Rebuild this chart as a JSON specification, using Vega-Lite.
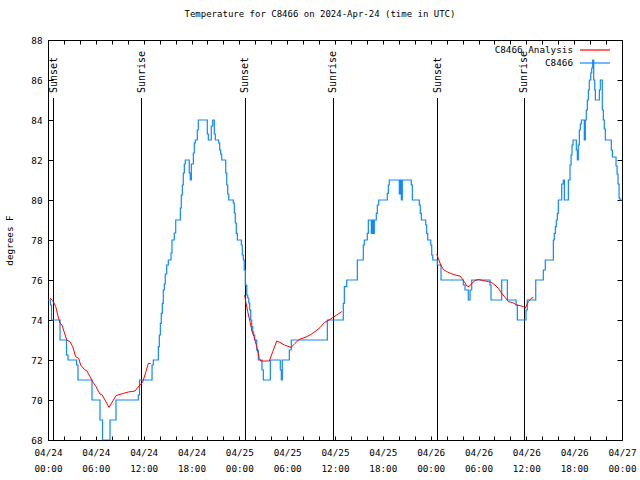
{
  "$schema": "https://vega.github.io/schema/vega-lite/v6.json",
  "width": 574,
  "height": 400,
  "autosize": {"type": "none"},
  "padding": {"left": 48, "top": 40, "right": 18, "bottom": 40},
  "background": "white",
  "title": {"text": "Temperature for C8466 on 2024-Apr-24 (time in UTC)", "font": "DejaVu Sans Mono", "fontSize": 9, "fontWeight": "normal", "color": "black", "anchor": "middle", "offset": 17, "dx": -15},
  "config": {
    "view": {"stroke": null},
    "font": "DejaVu Sans Mono",
    "axis": {"domainColor": "black", "domainWidth": 1, "tickColor": "black", "tickWidth": 1, "grid": false, "labelFont": "DejaVu Sans Mono", "labelFontSize": 9.3, "labelColor": "black", "titleFont": "DejaVu Sans Mono", "titleFontSize": 9.3, "titleFontWeight": "normal", "titleColor": "black"}
  },
  "datasets": {
    "obs": [
      {"hour":0,"temp":75},{"hour":0.31,"temp":74.75},{"hour":0.44,"temp":74},{"hour":1.51,"temp":73},{"hour":2.32,"temp":72.25},{"hour":2.51,"temp":72},{"hour":3.58,"temp":71.75},{"hour":3.76,"temp":71},{"hour":5.52,"temp":70},{"hour":6.52,"temp":69},{"hour":6.84,"temp":68},{"hour":7.78,"temp":69},{"hour":8.53,"temp":70},{"hour":11.33,"temp":70.25},{"hour":11.48,"temp":71},{"hour":13.05,"temp":71.75},{"hour":13.21,"temp":72},{"hour":13.84,"temp":72.67},{"hour":13.96,"temp":73.25},{"hour":14.09,"temp":73.83},{"hour":14.21,"temp":74.33},{"hour":14.34,"temp":74.83},{"hour":14.46,"temp":75.5},{"hour":14.59,"temp":75.8},{"hour":14.71,"temp":76.3},{"hour":14.89,"temp":76.75},{"hour":15.09,"temp":77},{"hour":15.43,"temp":77.35},{"hour":15.55,"temp":78},{"hour":15.84,"temp":78.35},{"hour":16.02,"temp":79},{"hour":16.6,"temp":79.6},{"hour":16.72,"temp":80.25},{"hour":16.85,"temp":80.75},{"hour":16.97,"temp":81.35},{"hour":17.1,"temp":81.8},{"hour":17.22,"temp":82},{"hour":17.72,"temp":81.35},{"hour":17.85,"temp":81},{"hour":17.98,"temp":81.8},{"hour":18.23,"temp":82.35},{"hour":18.35,"temp":82.85},{"hour":18.48,"temp":83},{"hour":18.73,"temp":83.5},{"hour":18.85,"temp":84},{"hour":19.98,"temp":83.3},{"hour":20.11,"temp":83},{"hour":20.48,"temp":83.7},{"hour":20.66,"temp":84},{"hour":20.86,"temp":83.3},{"hour":20.99,"temp":83},{"hour":21.41,"temp":82.85},{"hour":21.54,"temp":82.5},{"hour":21.66,"temp":82.3},{"hour":21.79,"temp":82},{"hour":22.29,"temp":81.35},{"hour":22.42,"temp":80.75},{"hour":22.54,"temp":80.3},{"hour":22.67,"temp":80},{"hour":23.24,"temp":79.85},{"hour":23.37,"temp":79.35},{"hour":23.49,"temp":78.85},{"hour":23.62,"temp":78.33},{"hour":23.75,"temp":78},{"hour":24.25,"temp":77.75},{"hour":24.37,"temp":77.25},{"hour":24.5,"temp":77},{"hour":24.62,"temp":76.5},{"hour":24.75,"temp":75.75},{"hour":24.93,"temp":75.25},{"hour":25.05,"temp":75.1},{"hour":25.18,"temp":74.85},{"hour":25.3,"temp":74.5},{"hour":25.43,"temp":74},{"hour":25.55,"temp":73.67},{"hour":25.68,"temp":73.4},{"hour":25.8,"temp":73.25},{"hour":25.93,"temp":73},{"hour":26.18,"temp":72.5},{"hour":26.38,"temp":72},{"hour":26.84,"temp":71.5},{"hour":27.01,"temp":71},{"hour":27.89,"temp":72},{"hour":29.14,"temp":71.5},{"hour":29.27,"temp":71},{"hour":29.39,"temp":72},{"hour":30.27,"temp":72.5},{"hour":30.52,"temp":73},{"hour":35.04,"temp":74},{"hour":37.04,"temp":74.83},{"hour":37.17,"temp":75.67},{"hour":37.47,"temp":76},{"hour":38.8,"temp":77},{"hour":39.55,"temp":77.75},{"hour":39.68,"temp":78},{"hour":40.05,"temp":78.33},{"hour":40.18,"temp":79},{"hour":40.56,"temp":78.33},{"hour":40.68,"temp":79},{"hour":40.81,"temp":78.33},{"hour":40.93,"temp":79},{"hour":41.18,"temp":79.33},{"hour":41.31,"temp":79.75},{"hour":41.48,"temp":80},{"hour":42.56,"temp":80.33},{"hour":42.69,"temp":80.75},{"hour":42.81,"temp":81},{"hour":44.07,"temp":80.3},{"hour":44.19,"temp":81},{"hour":44.32,"temp":80},{"hour":44.44,"temp":81},{"hour":45.57,"temp":80.75},{"hour":45.7,"temp":80},{"hour":46.58,"temp":79.75},{"hour":46.7,"temp":79.33},{"hour":46.83,"temp":79},{"hour":47.38,"temp":78.75},{"hour":47.5,"temp":78.33},{"hour":47.63,"temp":78},{"hour":48.01,"temp":77.75},{"hour":48.13,"temp":77.25},{"hour":48.26,"temp":77},{"hour":48.83,"temp":76.75},{"hour":49.3,"temp":76},{"hour":52.1,"temp":75.75},{"hour":52.31,"temp":75.5},{"hour":52.72,"temp":75},{"hour":52.94,"temp":75.5},{"hour":53.15,"temp":76},{"hour":55.44,"temp":75.75},{"hour":55.57,"temp":75},{"hour":56.91,"temp":76},{"hour":57.62,"temp":75},{"hour":58.71,"temp":74.75},{"hour":58.87,"temp":74},{"hour":59.96,"temp":74.5},{"hour":60.12,"temp":75},{"hour":61.18,"temp":76},{"hour":62.13,"temp":76.5},{"hour":62.38,"temp":77},{"hour":63.39,"temp":78},{"hour":63.51,"temp":78.33},{"hour":63.64,"temp":78.67},{"hour":63.76,"temp":79},{"hour":63.89,"temp":79.33},{"hour":64.01,"temp":80},{"hour":64.44,"temp":80.8},{"hour":64.64,"temp":81},{"hour":64.77,"temp":80},{"hour":65.27,"temp":81},{"hour":65.48,"temp":81.75},{"hour":65.61,"temp":82.25},{"hour":65.73,"temp":82.75},{"hour":65.86,"temp":83},{"hour":66.27,"temp":82.5},{"hour":66.4,"temp":82},{"hour":66.52,"temp":82.75},{"hour":66.65,"temp":83.5},{"hour":66.77,"temp":83.8},{"hour":66.9,"temp":84},{"hour":67.27,"temp":83},{"hour":67.4,"temp":84},{"hour":67.52,"temp":84.5},{"hour":67.65,"temp":85},{"hour":67.78,"temp":85.5},{"hour":67.9,"temp":86},{"hour":68.08,"temp":86.35},{"hour":68.2,"temp":86.6},{"hour":68.33,"temp":87},{"hour":68.45,"temp":86},{"hour":68.58,"temp":85.5},{"hour":68.66,"temp":85},{"hour":69.16,"temp":85.5},{"hour":69.28,"temp":86},{"hour":69.53,"temp":84.5},{"hour":69.66,"temp":84},{"hour":69.78,"temp":83.55},{"hour":69.91,"temp":83},{"hour":70.66,"temp":82.5},{"hour":70.79,"temp":82.15},{"hour":71.25,"temp":81.7},{"hour":71.38,"temp":81.3},{"hour":71.5,"temp":80.8},{"hour":71.63,"temp":80.1},{"hour":71.75,"temp":80},{"hour":72,"temp":80}
    ],
    "analysis": [
      {"seg":1,"hour":0.25,"temp":75.1},{"seg":1,"hour":0.59,"temp":74.97},{"seg":1,"hour":0.97,"temp":74.67},{"seg":1,"hour":1.22,"temp":74.25},{"seg":1,"hour":1.51,"temp":73.83},{"seg":1,"hour":1.76,"temp":73.75},{"seg":1,"hour":2.01,"temp":73.42},{"seg":1,"hour":2.35,"temp":73.0},{"seg":1,"hour":2.76,"temp":72.92},{"seg":1,"hour":3.1,"temp":72.67},{"seg":1,"hour":3.47,"temp":72.17},{"seg":1,"hour":3.85,"temp":72.08},{"seg":1,"hour":4.1,"temp":71.75},{"seg":1,"hour":4.55,"temp":71.53},{"seg":1,"hour":4.85,"temp":71.47},{"seg":1,"hour":5.27,"temp":71.17},{"seg":1,"hour":5.68,"temp":70.87},{"seg":1,"hour":6.02,"temp":70.67},{"seg":1,"hour":6.52,"temp":70.3},{"seg":1,"hour":6.81,"temp":70.25},{"seg":1,"hour":7.65,"temp":69.63},{"seg":1,"hour":8.53,"temp":70.22},{"seg":1,"hour":9.03,"temp":70.28},{"seg":1,"hour":9.45,"temp":70.33},{"seg":1,"hour":10.07,"temp":70.4},{"seg":1,"hour":10.91,"temp":70.45},{"seg":1,"hour":11.42,"temp":70.7},{"seg":1,"hour":11.88,"temp":70.9},{"seg":1,"hour":12.29,"temp":71.42},{"seg":1,"hour":12.58,"temp":71.83},{"seg":1,"hour":12.92,"temp":71.83},
      {"seg":2,"hour":24.67,"temp":75.25},{"seg":2,"hour":24.8,"temp":74.92},{"seg":2,"hour":25.05,"temp":74.42},{"seg":2,"hour":25.34,"temp":73.92},{"seg":2,"hour":25.59,"temp":73.42},{"seg":2,"hour":25.84,"temp":73.17},{"seg":2,"hour":26.18,"temp":72.67},{"seg":2,"hour":26.51,"temp":72.08},{"seg":2,"hour":26.68,"temp":71.95},{"seg":2,"hour":27.76,"temp":71.95},{"seg":2,"hour":28.19,"temp":72.42},{"seg":2,"hour":28.69,"temp":72.95},{"seg":2,"hour":29.1,"temp":72.88},{"seg":2,"hour":29.64,"temp":72.75},{"seg":2,"hour":30.48,"temp":72.63},{"seg":2,"hour":30.98,"temp":72.83},{"seg":2,"hour":31.52,"temp":73.03},{"seg":2,"hour":32.24,"temp":73.13},{"seg":2,"hour":32.87,"temp":73.25},{"seg":2,"hour":33.49,"temp":73.42},{"seg":2,"hour":34.12,"temp":73.62},{"seg":2,"hour":34.66,"temp":73.87},{"seg":2,"hour":35.37,"temp":74.03},{"seg":2,"hour":36.21,"temp":74.25},{"seg":2,"hour":36.84,"temp":74.42},
      {"seg":3,"hour":48.76,"temp":77.3},{"seg":3,"hour":48.96,"temp":77.08},{"seg":3,"hour":49.26,"temp":76.75},{"seg":3,"hour":49.59,"temp":76.53},{"seg":3,"hour":50.01,"temp":76.42},{"seg":3,"hour":50.51,"temp":76.33},{"seg":3,"hour":51.05,"temp":76.25},{"seg":3,"hour":51.68,"temp":76.2},{"seg":3,"hour":52.22,"temp":75.92},{"seg":3,"hour":52.52,"temp":75.7},{"seg":3,"hour":52.81,"temp":75.67},{"seg":3,"hour":53.15,"temp":75.83},{"seg":3,"hour":53.56,"temp":75.97},{"seg":3,"hour":53.98,"temp":76.03},{"seg":3,"hour":54.61,"temp":75.97},{"seg":3,"hour":55.23,"temp":75.92},{"seg":3,"hour":55.66,"temp":75.87},{"seg":3,"hour":56.07,"temp":75.75},{"seg":3,"hour":56.49,"temp":75.58},{"seg":3,"hour":56.91,"temp":75.33},{"seg":3,"hour":57.33,"temp":75.13},{"seg":3,"hour":57.74,"temp":74.92},{"seg":3,"hour":58.29,"temp":74.87},{"seg":3,"hour":58.79,"temp":74.75},{"seg":3,"hour":59.21,"temp":74.72},{"seg":3,"hour":59.62,"temp":74.67},{"seg":3,"hour":59.86,"temp":74.58},{"seg":3,"hour":60.25,"temp":74.92},{"seg":3,"hour":60.59,"temp":75.08},{"seg":3,"hour":60.88,"temp":75.13}
    ],
    "events": [
      {"hour":0.69,"event":"Sunset"},{"hour":11.73,"event":"Sunrise"},{"hour":24.77,"event":"Sunset"},{"hour":35.81,"event":"Sunrise"},{"hour":48.86,"event":"Sunset"},{"hour":59.77,"event":"Sunrise"}
    ]
  },
  "layer": [
    {
      "data": {"name": "events"},
      "mark": {"type": "rule", "color": "black", "strokeWidth": 1},
      "encoding": {
        "x": {"field": "hour", "type": "quantitative", "axis": null},
        "y": {"datum": 85.1, "type": "quantitative", "axis": null},
        "y2": {"datum": 68}
      }
    },
    {
      "data": {"name": "events"},
      "mark": {"type": "text", "angle": 270, "align": "left", "baseline": "middle", "font": "DejaVu Sans Mono", "fontSize": 10, "color": "black"},
      "encoding": {
        "x": {"field": "hour", "type": "quantitative", "axis": null},
        "y": {"datum": 85.35, "type": "quantitative", "axis": null},
        "text": {"field": "event"}
      }
    },
    {
      "data": {"name": "obs"},
      "mark": {"type": "line", "interpolate": "step-after", "strokeWidth": 1.2, "clip": true},
      "encoding": {
        "x": {"field": "hour", "type": "quantitative", "scale": {"domain": [0, 72], "nice": false, "zero": false},
          "axis": {"orient": "bottom", "title": null, "values": [0,2,4,6,8,10,12,14,16,18,20,22,24,26,28,30,32,34,36,38,40,42,44,46,48,50,52,54,56,58,60,62,64,66,68,70,72], "tickSize": -4, "labelPadding": 12, "labelBaseline": "top", "labelLineHeight": 16, "labelOverlap": false, "labelFlush": false, "labelBound": false,
            "labelExpr": "datum.value % 6 == 0 ? ['04/' + (24 + floor(datum.value / 24)), ((datum.value % 24) < 10 ? '0' : '') + (datum.value % 24) + ':00'] : ''"}},
        "y": {"field": "temp", "type": "quantitative", "scale": {"domain": [68, 88], "nice": false, "zero": false},
          "axis": {"orient": "left", "title": "degrees F", "values": [68,70,72,74,76,78,80,82,84,86,88], "tickSize": -5, "labelPadding": 11, "titlePadding": 16, "labelOverlap": false}},
        "color": {"datum": "C8466", "type": "nominal",
          "scale": {"domain": ["C8466 Analysis", "C8466"], "range": ["#ff0000", "#1088ff"]},
          "legend": {"title": null, "orient": "none", "legendX": 541, "legendY": 4, "symbolType": "M-3,0H3", "symbolSize": 100, "symbolStrokeWidth": 1.2, "symbolFillColor": "transparent", "labelAlign": "right", "labelOffset": -28, "labelFont": "DejaVu Sans Mono", "labelFontSize": 9.3, "labelColor": "black", "rowPadding": 1, "padding": 0}}
      }
    },
    {
      "data": {"name": "analysis"},
      "mark": {"type": "line", "strokeWidth": 1},
      "encoding": {
        "x": {"field": "hour", "type": "quantitative", "axis": {"orient": "top", "title": null, "labels": false, "values": [0,2,4,6,8,10,12,14,16,18,20,22,24,26,28,30,32,34,36,38,40,42,44,46,48,50,52,54,56,58,60,62,64,66,68,70,72], "tickSize": -4}},
        "y": {"field": "temp", "type": "quantitative", "axis": {"orient": "right", "title": null, "labels": false, "values": [68,70,72,74,76,78,80,82,84,86,88], "tickSize": -5}},
        "color": {"datum": "C8466 Analysis", "type": "nominal"},
        "detail": {"field": "seg", "type": "nominal"}
      }
    }
  ],
  "resolve": {"axis": {"x": "independent", "y": "independent"}}
}
